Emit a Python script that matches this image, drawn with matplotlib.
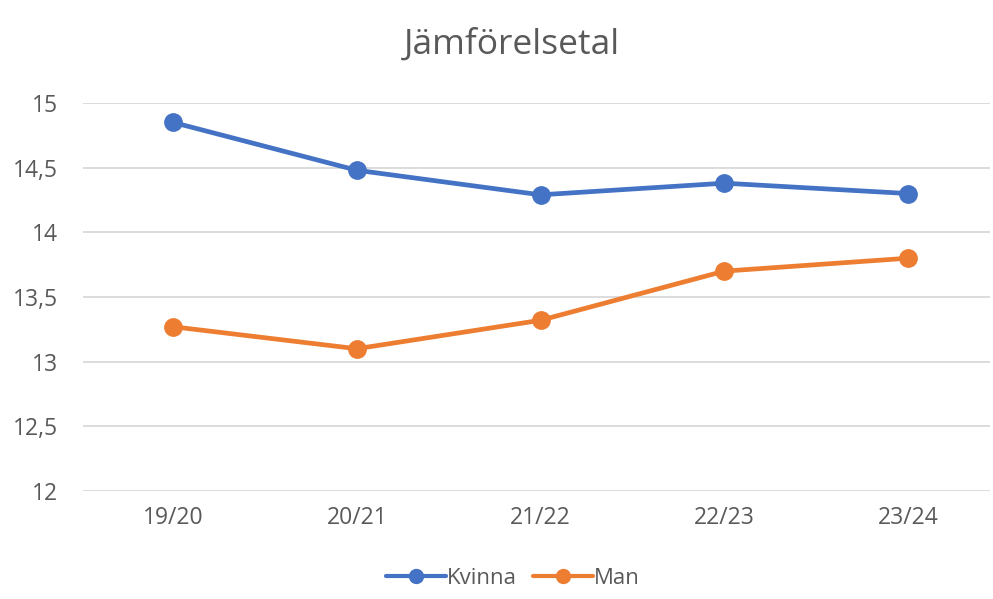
import matplotlib
matplotlib.use("Agg")
import matplotlib.pyplot as plt

plt.rcParams['font.family'] = ['Open Sans', 'DejaVu Sans']

categories = ["19/20", "20/21", "21/22", "22/23", "23/24"]
kvinna = [14.85, 14.48, 14.29, 14.38, 14.30]
man = [13.27, 13.10, 13.32, 13.70, 13.80]
yticks = [12, 12.5, 13, 13.5, 14, 14.5, 15]
ytick_labels = ["12", "12,5", "13", "13,5", "14", "14,5", "15"]

W, H = 993, 599
fig = plt.figure(figsize=(W/100, H/100), dpi=100)
left, right, top, bottom = 83, 990, 103, 491
ax = fig.add_axes([left/W, 1 - bottom/H, (right-left)/W, (bottom-top)/H])

x = list(range(len(categories)))
ax.plot(x, kvinna, color="#4472C4", lw=3.4, marker="o", ms=12.5, label="Kvinna",
        solid_capstyle="round", clip_on=False, zorder=3)
ax.plot(x, man, color="#ED7D31", lw=3.4, marker="o", ms=12.5, label="Man",
        solid_capstyle="round", clip_on=False, zorder=3)

ax.set_ylim(12, 15)
ax.set_xlim(-0.49, 4.446)
ax.set_yticks(yticks)
ax.set_yticklabels(ytick_labels)
ax.set_xticks(x)
ax.set_xticklabels(categories)
ax.grid(axis="y", color="#D9D9D9", lw=1.3)
ax.set_axisbelow(True)
for s in ax.spines.values():
    s.set_visible(False)
ax.tick_params(axis="both", length=0, labelsize=16.5, labelcolor="#595959")
ax.tick_params(axis="y", pad=18)
ax.tick_params(axis="x", pad=11)

fig.text(512/W, 1 - 45/H, "Jämförelsetal", ha="center", va="center",
         fontsize=25.5, color="#595959")

leg = ax.legend(loc="center", bbox_to_anchor=(513/W, 1 - 578/H), bbox_transform=fig.transFigure,
                ncol=2, frameon=False, fontsize=16, handlelength=2.7, columnspacing=0.7,
                handletextpad=0.05, markerscale=0.8)
for t in leg.get_texts():
    t.set_color("#595959")
for h in leg.legend_handles:
    h.set_linewidth(3)

fig.savefig("out.png", dpi=100, facecolor="white")
